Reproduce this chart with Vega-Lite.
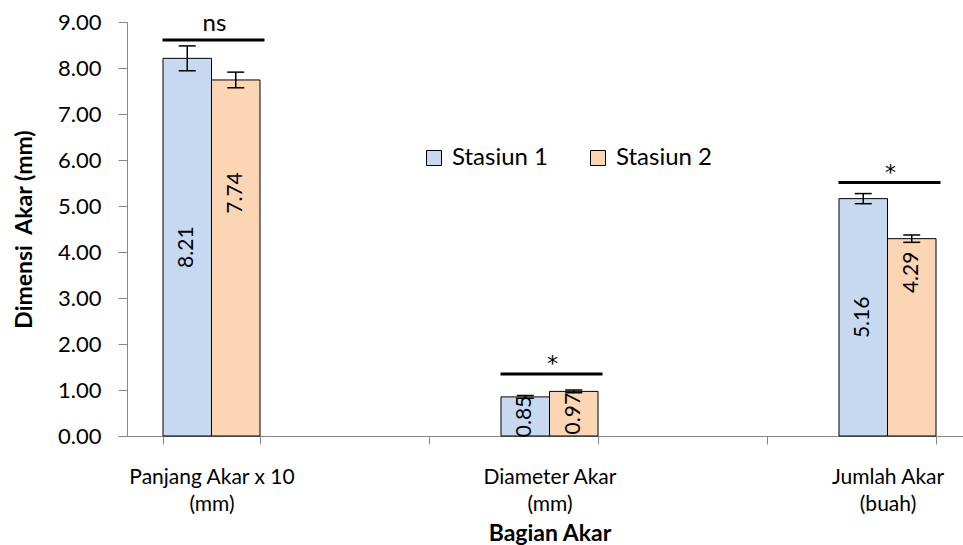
{
  "$schema": "https://vega.github.io/schema/vega-lite/v6.json",
  "width": 845,
  "height": 414,
  "autosize": {"type": "none"},
  "padding": {"left": 127, "top": 22, "right": 0, "bottom": 109},
  "config": {
    "font": "Lato",
    "view": {"stroke": null},
    "axis": {
      "grid": false,
      "domainColor": "#878787",
      "tickColor": "#878787",
      "labelColor": "#000000",
      "titleColor": "#000000"
    }
  },
  "datasets": {
    "akar": [
      {"bagian": "Panjang Akar x 10|(mm)", "stasiun": "Stasiun 1", "nilai": 8.21, "galat": 0.27},
      {"bagian": "Panjang Akar x 10|(mm)", "stasiun": "Stasiun 2", "nilai": 7.74, "galat": 0.17},
      {"bagian": "Diameter Akar|(mm)", "stasiun": "Stasiun 1", "nilai": 0.85, "galat": 0.03},
      {"bagian": "Diameter Akar|(mm)", "stasiun": "Stasiun 2", "nilai": 0.97, "galat": 0.03},
      {"bagian": "Jumlah Akar|(buah)", "stasiun": "Stasiun 1", "nilai": 5.16, "galat": 0.11},
      {"bagian": "Jumlah Akar|(buah)", "stasiun": "Stasiun 2", "nilai": 4.29, "galat": 0.08}
    ],
    "uji": [
      {"bagian": "Panjang Akar x 10|(mm)", "tingkat": 8.61, "tanda": "ns"},
      {"bagian": "Diameter Akar|(mm)", "tingkat": 1.35, "tanda": "*"},
      {"bagian": "Jumlah Akar|(buah)", "tingkat": 5.51, "tanda": "*"}
    ]
  },
  "layer": [
    {
      "data": {"name": "akar"},
      "mark": {"type": "bar", "stroke": "#000000", "strokeWidth": 1},
      "encoding": {
        "x": {
          "field": "bagian",
          "type": "nominal",
          "sort": null,
          "scale": {
            "domain": ["Panjang Akar x 10|(mm)", "sela-1", "Diameter Akar|(mm)", "sela-2", "Jumlah Akar|(buah)"],
            "paddingInner": 0.426,
            "paddingOuter": 0.213
          },
          "axis": {
            "title": "Bagian Akar",
            "titleFontSize": 23,
            "titleFontWeight": "bold",
            "titleY": 104,
            "titleBaseline": "alphabetic",
            "labelAngle": 0,
            "labelExpr": "indexof(datum.label, '|') >= 0 ? split(datum.label, '|') : ''",
            "labelFontSize": 21,
            "labelLineHeight": 27,
            "labelPadding": 22,
            "tickBand": "extent",
            "tickSize": 8
          }
        },
        "xOffset": {
          "field": "stasiun",
          "type": "nominal",
          "scale": {"domain": ["Stasiun 1", "Stasiun 2"], "paddingInner": 0, "paddingOuter": 0}
        },
        "y": {
          "field": "nilai",
          "type": "quantitative",
          "scale": {"domain": [0, 9], "nice": false},
          "axis": {
            "title": "Dimensi\u00a0 Akar (mm)",
            "titleFontSize": 23,
            "titleFontWeight": "bold",
            "titleX": -103,
            "titleY": 207,
            "titleBaseline": "middle",
            "values": [0, 1, 2, 3, 4, 5, 6, 7, 8, 9],
            "format": ".2f",
            "labelFontSize": 22,
            "labelPadding": 17,
            "tickSize": 9
          }
        },
        "color": {
          "field": "stasiun",
          "type": "nominal",
          "scale": {"domain": ["Stasiun 1", "Stasiun 2"], "range": ["#C6D9F1", "#FCD5B5"]},
          "legend": {
            "title": null,
            "orient": "none",
            "legendX": 295,
            "legendY": 124,
            "direction": "horizontal",
            "columns": 2,
            "columnPadding": 37,
            "symbolType": "square",
            "symbolSize": 225,
            "symbolStrokeColor": "#000000",
            "symbolStrokeWidth": 1,
            "labelFontSize": 24,
            "labelColor": "#000000",
            "labelOffset": 6,
            "padding": 0
          }
        }
      }
    },
    {
      "data": {"name": "akar"},
      "transform": [
        {"calculate": "datum.nilai - datum.galat", "as": "bawah"},
        {"calculate": "datum.nilai + datum.galat", "as": "atas"}
      ],
      "layer": [
        {
          "mark": {"type": "rule", "color": "#000000", "strokeWidth": 1.5},
          "encoding": {
            "x": {"field": "bagian", "type": "nominal"},
            "xOffset": {"field": "stasiun", "type": "nominal"},
            "y": {"field": "bawah", "type": "quantitative"},
            "y2": {"field": "atas"}
          }
        },
        {
          "mark": {"type": "tick", "color": "#000000", "opacity": 1, "thickness": 1.5, "size": 17},
          "encoding": {
            "x": {"field": "bagian", "type": "nominal"},
            "xOffset": {"field": "stasiun", "type": "nominal"},
            "y": {"field": "atas", "type": "quantitative"}
          }
        },
        {
          "mark": {"type": "tick", "color": "#000000", "opacity": 1, "thickness": 1.5, "size": 17},
          "encoding": {
            "x": {"field": "bagian", "type": "nominal"},
            "xOffset": {"field": "stasiun", "type": "nominal"},
            "y": {"field": "bawah", "type": "quantitative"}
          }
        }
      ]
    },
    {
      "data": {"name": "akar"},
      "transform": [
        {"filter": "!(datum.stasiun === 'Stasiun 2' && datum.nilai > 2)"},
        {"calculate": "datum.nilai / 2", "as": "tengah"}
      ],
      "mark": {"type": "text", "angle": 270, "align": "center", "baseline": "middle", "fontSize": 21, "color": "#000000"},
      "encoding": {
        "x": {"field": "bagian", "type": "nominal"},
        "xOffset": {"field": "stasiun", "type": "nominal"},
        "y": {"field": "tengah", "type": "quantitative"},
        "text": {"field": "nilai", "type": "quantitative", "format": ".2f"}
      }
    },
    {
      "data": {"name": "akar"},
      "transform": [
        {"filter": "datum.stasiun === 'Stasiun 2' && datum.nilai > 2"},
        {"calculate": "datum.nilai / 2", "as": "tengah"}
      ],
      "mark": {"type": "text", "angle": 270, "align": "center", "baseline": "middle", "fontSize": 21, "color": "#000000", "dx": 65},
      "encoding": {
        "x": {"field": "bagian", "type": "nominal"},
        "xOffset": {"field": "stasiun", "type": "nominal"},
        "y": {"field": "tengah", "type": "quantitative"},
        "text": {"field": "nilai", "type": "quantitative", "format": ".2f"}
      }
    },
    {
      "data": {"name": "uji"},
      "layer": [
        {
          "mark": {"type": "tick", "color": "#000000", "opacity": 1, "thickness": 3, "size": 102, "xOffset": 2},
          "encoding": {
            "x": {"field": "bagian", "type": "nominal"},
            "y": {"field": "tingkat", "type": "quantitative"}
          }
        },
        {
          "transform": [{"filter": "datum.tanda === 'ns'"}],
          "mark": {"type": "text", "fontSize": 24, "color": "#000000", "baseline": "alphabetic", "dy": -9, "dx": 3},
          "encoding": {
            "x": {"field": "bagian", "type": "nominal"},
            "y": {"field": "tingkat", "type": "quantitative"},
            "text": {"field": "tanda", "type": "nominal"}
          }
        },
        {
          "transform": [{"filter": "datum.tanda === '*'"}],
          "mark": {"type": "text", "font": "DejaVu Sans", "fontSize": 22, "color": "#000000", "baseline": "alphabetic", "dy": -3, "dx": 3},
          "encoding": {
            "x": {"field": "bagian", "type": "nominal"},
            "y": {"field": "tingkat", "type": "quantitative"},
            "text": {"field": "tanda", "type": "nominal"}
          }
        }
      ]
    }
  ]
}
